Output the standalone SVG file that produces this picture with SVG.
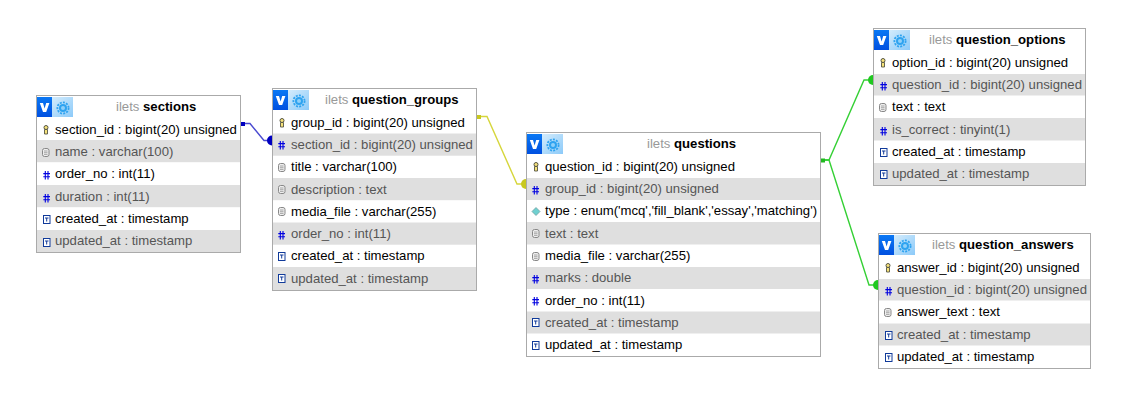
<svg xmlns="http://www.w3.org/2000/svg" width="1142" height="413" viewBox="0 0 1142 413">
<style>
text{font-family:"Liberation Sans",Arial,sans-serif;font-size:13.15px;fill:#000}
.box{fill:#fff;stroke:#aaa;stroke-width:1}
.alt{fill:#dfdfdf}
.g{fill:#555}
.db{fill:#999}
.t{font-weight:bold}
.c{fill:none;stroke-width:1.4}
</style>
<defs>
<linearGradient id="lb" x1="0" y1="0" x2="1" y2="1"><stop offset="0" stop-color="#d4ecfc"/><stop offset="1" stop-color="#8ccaf9"/></linearGradient>
<linearGradient id="bl" x1="0" y1="0" x2="0" y2="1"><stop offset="0" stop-color="#0a78f4"/><stop offset="1" stop-color="#0050e0"/></linearGradient>
<g id="hd">
<rect x="15" width="21" height="20" fill="url(#lb)"/>
<rect width="15" height="20" fill="url(#bl)"/>
<path d="M2.800 6H6L7.600 11.500 9.200 6H12.400L9.200 15H6Z" fill="#fff"/>
<circle cx="26" cy="11" r="5.600" fill="none" stroke="#2ea3f0" stroke-width="1.800" stroke-dasharray="2 1.200"/>
<circle cx="26" cy="11" r="4" fill="#2ea3f0"/>
<circle cx="26" cy="11" r="2" fill="#8fd0fa"/>
</g>
<g id="key"><circle cx="3" cy="2.500" r="2" fill="#f6e27a" stroke="#554" stroke-width="1"/><path d="M1.500 4.500h3v4.500h-3z" fill="#f6e27a" stroke="#554" stroke-width=".9"/></g>
<g id="hash"><path d="M2.300 1V9.500M5 1V9.500M.3 3.600H7M.3 6.700H7" stroke="#0000e0" stroke-width="1.100" fill="none"/></g>
<g id="doc"><rect x=".5" y=".5" width="6.500" height="8" rx="2" fill="#eee" stroke="#888"/><path d="M2 3H5.500M2 4.700H5.500M2 6.400H5.500" stroke="#888" stroke-width=".7"/></g>
<g id="enum"><path d="M4 .5L8 4.500 4 8.500 0 4.500Z" fill="#6fd0d0" stroke="#6a9a9a" stroke-width=".7"/></g>
<g id="ts"><rect x=".5" y=".5" width="6.500" height="8" fill="#fff" stroke="#103a9a"/><path d="M2 3H5.500" stroke="#103a9a"/><path d="M3.700 3V6.500" stroke="#103a9a"/></g>
</defs>

<g id="connectors">
<path class="c" d="M241 123.500H250L264 140.500H272" stroke="#4a4ad0"/>
<rect x="241" y="122" width="4" height="4" fill="#0000c0"/><path d="M272 135.500a5 5 0 0 0 0 10z" fill="#0000c0"/>
<path class="c" d="M477 116.500H487L517 184H526" stroke="#d6d63c"/>
<rect x="477" y="115" width="4" height="4" fill="#c8c820"/><path d="M526 179a5 5 0 0 0 0 10z" fill="#c8c820"/>
<path class="c" d="M821 160H829L864 80H873" stroke="#35d035"/>
<path class="c" d="M821 160H829L869 285H878" stroke="#35d035"/>
<rect x="821" y="158.500" width="4" height="4" fill="#20b820"/>
<path d="M873 75a5 5 0 0 0 0 10z" fill="#20c820"/><path d="M878 280a5 5 0 0 0 0 10z" fill="#20c820"/>
</g>

<g id="sections">
<rect class="box" x="36.500" y="95.500" width="204" height="157"/>
<use href="#hd" x="37" y="97"/>
<text x="116" y="111"><tspan class="db">ilets </tspan><tspan class="t">sections</tspan></text>
<rect class="alt" x="37" y="140" width="203" height="22.200"/>
<rect class="alt" x="37" y="185" width="203" height="22.200"/>
<rect class="alt" x="37" y="230" width="203" height="22"/>
<use href="#key" x="43" y="125"/><text x="55" y="134">section_id : bigint(20) unsigned</text>
<use href="#doc" x="42" y="148"/><text class="g" x="55" y="156">name : varchar(100)</text>
<use href="#hash" x="43" y="170"/><text x="55" y="178">order_no : int(11)</text>
<use href="#hash" x="43" y="193"/><text class="g" x="55" y="201">duration : int(11)</text>
<use href="#ts" x="43" y="215"/><text x="55" y="223">created_at : timestamp</text>
<use href="#ts" x="43" y="238"/><text class="g" x="55" y="245">updated_at : timestamp</text>
</g>

<g id="question_groups">
<rect class="box" x="272.500" y="88.500" width="204" height="202"/>
<use href="#hd" x="273" y="90"/>
<text x="325" y="104"><tspan class="db">ilets </tspan><tspan class="t">question_groups</tspan></text>
<rect class="alt" x="273" y="133.500" width="203" height="22.200"/>
<rect class="alt" x="273" y="178" width="203" height="22.200"/>
<rect class="alt" x="273" y="222.500" width="203" height="22.200"/>
<rect class="alt" x="273" y="267" width="203" height="23"/>
<use href="#key" x="279" y="118"/><text x="291" y="127">group_id : bigint(20) unsigned</text>
<use href="#hash" x="278" y="140"/><text class="g" x="291" y="149">section_id : bigint(20) unsigned</text>
<use href="#doc" x="278" y="163"/><text x="291" y="171">title : varchar(100)</text>
<use href="#doc" x="278" y="185"/><text class="g" x="291" y="194">description : text</text>
<use href="#doc" x="278" y="207"/><text x="291" y="216">media_file : varchar(255)</text>
<use href="#hash" x="278" y="230"/><text class="g" x="291" y="238">order_no : int(11)</text>
<use href="#ts" x="278" y="252"/><text x="291" y="260">created_at : timestamp</text>
<use href="#ts" x="278" y="274"/><text class="g" x="291" y="283">updated_at : timestamp</text>
</g>

<g id="questions">
<rect class="box" x="526.500" y="132.500" width="294" height="224"/>
<use href="#hd" x="527" y="134"/>
<text x="647" y="148"><tspan class="db">ilets </tspan><tspan class="t">questions</tspan></text>
<rect class="alt" x="527" y="178" width="293" height="22"/>
<rect class="alt" x="527" y="222" width="293" height="22.500"/>
<rect class="alt" x="527" y="267" width="293" height="22"/>
<rect class="alt" x="527" y="311.500" width="293" height="22"/>
<use href="#key" x="533" y="162"/><text x="545" y="171">question_id : bigint(20) unsigned</text>
<use href="#hash" x="532" y="185"/><text class="g" x="545" y="193">group_id : bigint(20) unsigned</text>
<use href="#enum" x="532" y="207"/><text x="545" y="215">type : enum('mcq','fill_blank','essay','matching')</text>
<use href="#doc" x="532" y="229"/><text class="g" x="545" y="238">text : text</text>
<use href="#doc" x="532" y="252"/><text x="545" y="260">media_file : varchar(255)</text>
<use href="#hash" x="532" y="274"/><text class="g" x="545" y="282">marks : double</text>
<use href="#hash" x="532" y="296"/><text x="545" y="305">order_no : int(11)</text>
<use href="#ts" x="532" y="318"/><text class="g" x="545" y="327">created_at : timestamp</text>
<use href="#ts" x="532" y="341"/><text x="545" y="349">updated_at : timestamp</text>
</g>

<g id="question_options">
<rect class="box" x="873.500" y="28.500" width="212" height="157"/>
<use href="#hd" x="874" y="30"/>
<text x="929" y="44"><tspan class="db">ilets </tspan><tspan class="t">question_options</tspan></text>
<rect class="alt" x="874" y="74" width="211" height="21.500"/>
<rect class="alt" x="874" y="118" width="211" height="22.500"/>
<rect class="alt" x="874" y="163" width="211" height="22"/>
<use href="#key" x="880" y="58"/><text x="892" y="67">option_id : bigint(20) unsigned</text>
<use href="#hash" x="880" y="81"/><text class="g" x="892" y="89">question_id : bigint(20) unsigned</text>
<use href="#doc" x="879" y="103"/><text x="892" y="111">text : text</text>
<use href="#hash" x="880" y="126"/><text class="g" x="892" y="134">is_correct : tinyint(1)</text>
<use href="#ts" x="880" y="148"/><text x="892" y="156">created_at : timestamp</text>
<use href="#ts" x="880" y="170"/><text class="g" x="892" y="178">updated_at : timestamp</text>
</g>

<g id="question_answers">
<rect class="box" x="878.500" y="233.500" width="212" height="135"/>
<use href="#hd" x="879" y="235"/>
<text x="932" y="249"><tspan class="db">ilets </tspan><tspan class="t">question_answers</tspan></text>
<rect class="alt" x="879" y="279" width="211" height="21.500"/>
<rect class="alt" x="879" y="323.500" width="211" height="22"/>
<use href="#key" x="885" y="263"/><text x="897" y="272">answer_id : bigint(20) unsigned</text>
<use href="#hash" x="885" y="286"/><text class="g" x="897" y="294">question_id : bigint(20) unsigned</text>
<use href="#doc" x="884" y="308"/><text x="897" y="316">answer_text : text</text>
<use href="#ts" x="885" y="331"/><text class="g" x="897" y="339">created_at : timestamp</text>
<use href="#ts" x="885" y="353"/><text x="897" y="361">updated_at : timestamp</text>
</g>
</svg>
